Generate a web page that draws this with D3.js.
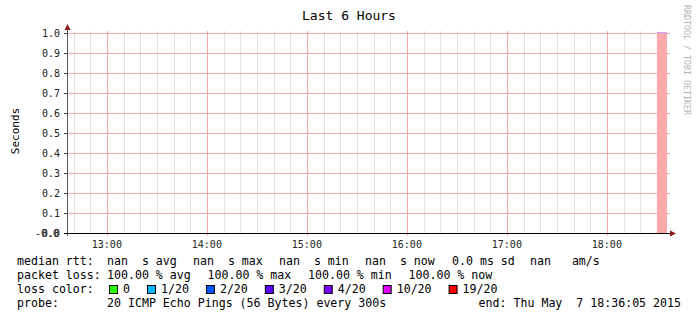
<!DOCTYPE html>
<html>
<head>
<meta charset="utf-8">
<script src="https://cdn.jsdelivr.net/npm/d3@7"></script>
<style>
  body { margin: 0; background: #fff; }
  svg { display: block; }
  text { font-family: "DejaVu Sans Mono", monospace; fill: #000; white-space: pre; }
</style>
</head>
<body>
<svg width="697" height="321"></svg>
<script>
// ---- data ----
var startTime = new Date(2015, 4, 7, 12, 36, 5);
var endTime = new Date(2015, 4, 7, 18, 36, 5);
var lossStart = [new Date(2015, 4, 7, 18, 30, 0)];
var lossEnd = [new Date(2015, 4, 7, 18, 36, 5)];
var lossValue = [1.0];

var lossLabels = ["0", "1/20", "2/20", "3/20", "4/20", "10/20", "19/20"];
var lossColors = ["#26ff00", "#00b8ff", "#0059ff", "#5e00ff", "#7e00ff", "#dd00ff", "#ff0000"];

var rttStats = ["nan  s avg", "nan  s max", "nan  s min", "nan  s now", "0.0 ms sd", "nan   am/s"];
var lossStats = ["100.00 % avg", "100.00 % max", "100.00 % min", "100.00 % now"];
var probeText = "20 ICMP Echo Pings (56 Bytes) every 300s";
var endText = "end: Thu May  7 18:36:05 2015";

var svg = d3.select("svg"),
  width = +svg.attr("width"),
  height = +svg.attr("height");

var pLeft = 67, pRight = 667, pTop = 33, pBottom = 233;

var x = d3.scaleTime().domain([startTime, endTime]).range([pLeft, pRight]);
var y = d3.scaleLinear().domain([0, 1]).range([pBottom, pTop]);

// title
svg.append("text")
  .attr("x", 349).attr("y", 20)
  .attr("text-anchor", "middle")
  .style("font-size", "13px")
  .text("Last 6 Hours");

// watermark
svg.append("text")
  .attr("transform", "translate(684,5) rotate(90)")
  .style("font-size", "8.3px")
  .style("fill", "#b4b4b4")
  .text("RRDTOOL / TOBI OETIKER");

// y label
svg.append("text")
  .attr("transform", "translate(19,131) rotate(-90)")
  .attr("text-anchor", "middle")
  .style("font-size", "11px")
  .text("Seconds");

// minor vertical grid (10 min)
var minor = x.ticks(d3.timeMinute.every(10)).filter(function (d) { return d.getMinutes() !== 0; });
svg.append("g").selectAll("line")
  .data(minor).enter().append("line")
  .attr("x1", function (d) { return Math.round(x(d)) + 0.5; })
  .attr("x2", function (d) { return Math.round(x(d)) + 0.5; })
  .attr("y1", pTop - 2).attr("y2", pBottom)
  .attr("stroke", "#e2e2e2");

// major vertical grid (hours)
var hours = x.ticks(d3.timeHour.every(1));
svg.append("g").selectAll("line")
  .data(hours).enter().append("line")
  .attr("x1", function (d) { return Math.round(x(d)) + 0.5; })
  .attr("x2", function (d) { return Math.round(x(d)) + 0.5; })
  .attr("y1", pTop - 2).attr("y2", pBottom + 3)
  .attr("stroke", "#f7a8a8");

// horizontal grid
var yTicks = y.ticks(10);
svg.append("g").selectAll("line")
  .data(yTicks).enter().append("line")
  .attr("x1", pLeft - 3).attr("x2", pRight + 3)
  .attr("y1", function (d) { return Math.round(y(d)) + 0.5; })
  .attr("y2", function (d) { return Math.round(y(d)) + 0.5; })
  .attr("stroke", "#f3aaaa");

// loss area
var bars = svg.append("g");
lossValue.forEach(function (v, i) {
  bars.append("rect")
    .attr("x", x(lossStart[i]))
    .attr("y", y(v))
    .attr("width", x(lossEnd[i]) - x(lossStart[i]))
    .attr("height", y(0) - y(v))
    .attr("fill", "#ffaaaa");
  bars.append("rect")
    .attr("x", x(lossStart[i]))
    .attr("y", y(v) - 1)
    .attr("width", x(lossEnd[i]) - x(lossStart[i]))
    .attr("height", 1.5)
    .attr("fill", "#cfa2e6");
});

// y tick labels
svg.append("g").selectAll("text")
  .data(yTicks).enter().append("text")
  .attr("x", 60)
  .attr("y", function (d) { return y(d) + 4; })
  .attr("text-anchor", "end")
  .style("font-size", "10px")
  .style("fill", "#222")
  .text(function (d) { return d3.format(".1f")(d); });
svg.append("text")
  .attr("x", 59).attr("y", y(0) + 4)
  .attr("text-anchor", "end")
  .style("font-size", "10px")
  .style("fill", "#222")
  .text("-0.0");

// x tick labels
svg.append("g").selectAll("text")
  .data(hours).enter().append("text")
  .attr("x", function (d) { return x(d); })
  .attr("y", 248)
  .attr("text-anchor", "middle")
  .style("font-size", "10px")
  .style("fill", "#222")
  .text(d3.timeFormat("%H:%M"));

// y tick marks
svg.append("g").selectAll("line")
  .data(yTicks).enter().append("line")
  .attr("x1", pLeft - 3).attr("x2", pLeft)
  .attr("y1", function (d) { return Math.round(y(d)) + 0.5; })
  .attr("y2", function (d) { return Math.round(y(d)) + 0.5; })
  .attr("stroke", "#444");

// axes
svg.append("line")
  .attr("x1", pLeft + 0.5).attr("x2", pLeft + 0.5)
  .attr("y1", pBottom + 3).attr("y2", pTop - 5)
  .attr("stroke", "#555");
svg.append("line")
  .attr("x1", pLeft - 3).attr("x2", pRight + 4)
  .attr("y1", pBottom + 0.5).attr("y2", pBottom + 0.5)
  .attr("stroke", "#000");
svg.append("path")
  .attr("d", "M" + (pLeft - 2.5) + "," + (pTop - 3) + "L" + (pLeft + 0.5) + "," + (pTop - 9) + "L" + (pLeft + 3.5) + "," + (pTop - 3) + "Z")
  .attr("fill", "#8b1a1a");
svg.append("path")
  .attr("d", "M" + (pRight + 3) + "," + (pBottom - 2.5) + "L" + (pRight + 9) + "," + (pBottom + 0.5) + "L" + (pRight + 3) + "," + (pBottom + 3.5) + "Z")
  .attr("fill", "#8b1a1a");

// legend
var lfs = "11.6px";
function legendText(tx, ty, s) {
  return svg.append("text").attr("x", tx).attr("y", ty).style("font-size", lfs).text(s);
}
legendText(17, 265, "median rtt:");
var rttX = [107, 193, 279, 365, 452, 530];
rttStats.forEach(function (s, i) { legendText(rttX[i], 265, s); });

legendText(17, 279, "packet loss:");
lossStats.forEach(function (s, i) { legendText(107 + i * 100.5, 279, s); });

legendText(17, 293, "loss color:");
var lx = 109;
lossLabels.forEach(function (s, i) {
  svg.append("rect")
    .attr("x", lx + 0.5).attr("y", 285.5)
    .attr("width", 8).attr("height", 8)
    .attr("fill", lossColors[i])
    .attr("stroke", "#000");
  var t = legendText(lx + 14, 293, s);
  lx = lx + 14 + t.node().getComputedTextLength() + 17;
});

legendText(17, 307, "probe:");
legendText(107, 307, probeText);
legendText(681, 307, endText).attr("text-anchor", "end");
</script>
</body>
</html>
